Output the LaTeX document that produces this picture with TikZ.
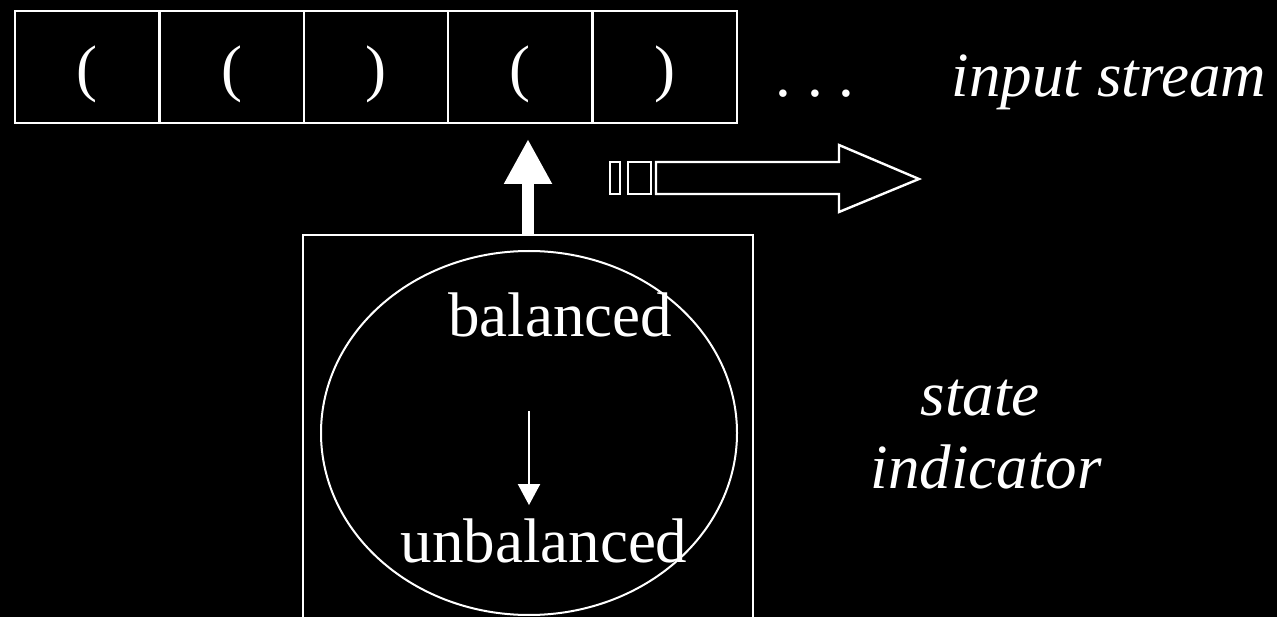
\documentclass[tikz,border=0pt]{standalone}
\usepackage{fontspec}
\setmainfont{Liberation Serif}
\usetikzlibrary{arrows.meta, positioning, shapes.geometric}

\begin{document}
\begin{tikzpicture}[x=1pt, y=-1pt,
    every node/.style={text=white, font=\fontsize{63}{73}\selectfont},
    cell/.style={draw=white, line width=2.4pt, minimum width=144.4pt, minimum height=112pt,
        inner sep=0pt, outer sep=0pt, text height=46pt, text depth=0pt},
    word/.style={inner sep=0pt, anchor=base},
    bigarrow/.style={white, line width=12pt, -{Triangle[width=45pt, length=45pt]}},
    thinarrow/.style={white, line width=2pt, -{Triangle[width=22pt, length=21pt]}},
    outline/.style={draw=white, line width=2.4pt}]
    % Page and background
    \clip (0,0) rectangle (1277,617);
    \fill[black] (0,0) rectangle (1277,617);
    % Input tape
    \node[cell] (c1) at (87.2,67) {(};
    \node[cell, right=0pt of c1] (c2) {(};
    \node[cell, right=0pt of c2] (c3) {)};
    \node[cell, right=0pt of c3] (c4) {(};
    \node[cell, right=0pt of c4] (c5) {)};
    \node[word] (dots) at (815,97) {.\ .\ .};
    \node[word, font=\fontsize{63}{73}\selectfont\itshape] (input) at (1109,97) {input stream};
    % Direction of reading (striped hollow arrow)
    \draw[outline] (610,162) rectangle (620,194);
    \draw[outline] (628,162) rectangle (651,194);
    \draw[outline, line join=miter] (656,162) -- (839,162) -- (839,145) -- (919,179)
        -- (839,212) -- (839,194) -- (656,194) -- cycle;
    % State indicator box
    \node[draw=white, line width=2pt, minimum width=450pt, minimum height=420pt,
        inner sep=0pt, anchor=north] (box) at (528,234) {};
    \node[draw=white, line width=2pt, ellipse, minimum width=416pt, minimum height=364pt,
        inner sep=0pt] (state) at (529,433) {};
    \node[word] (bal) at (560,337) {balanced};
    \node[word] (unbal) at (544,562) {unbalanced};
    \draw[thinarrow, shorten <=73pt, shorten >=13pt] (bal.south -| state.center) -- (unbal.north -| state.center);
    % Reading head
    \draw[bigarrow, shorten >=16pt] (box.north) -- (box.north |- c4.south);
    % Labels
    \node[word, font=\fontsize{63}{73}\selectfont\itshape] (st) at (980,415) {state};
    \node[word, font=\fontsize{63}{73}\selectfont\itshape] (ind) at (986,488) {indicator};
\end{tikzpicture}
\end{document}
